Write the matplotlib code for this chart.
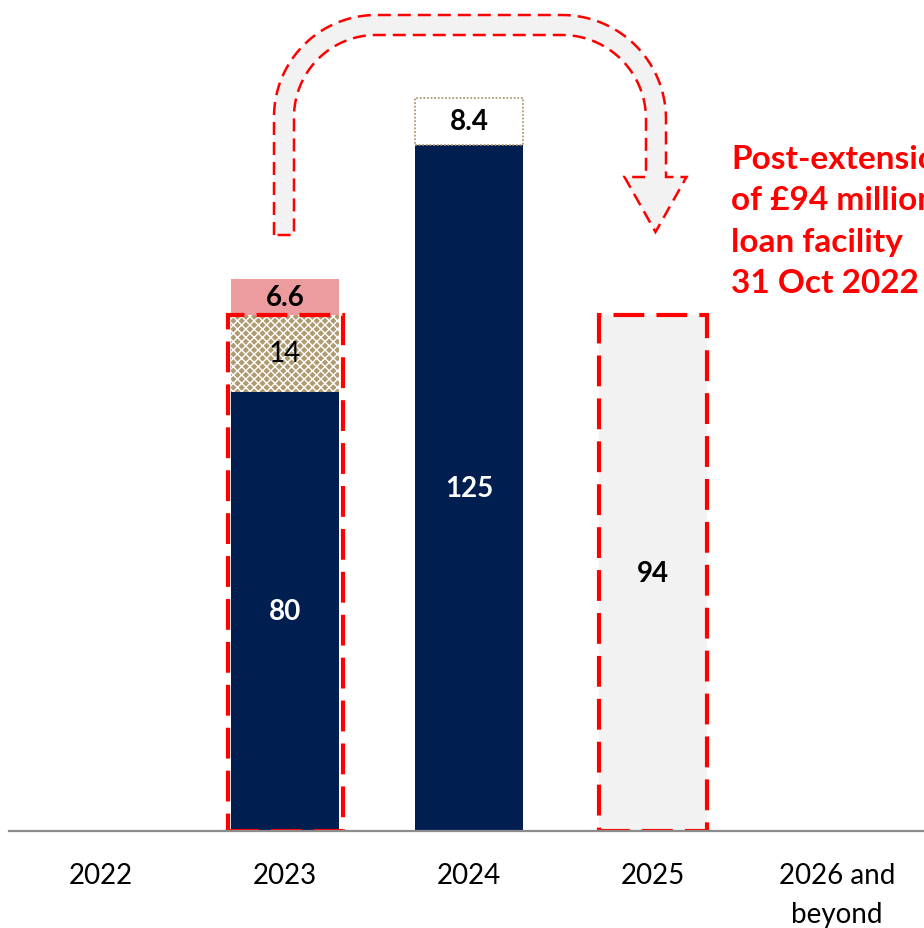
import numpy as np
import matplotlib
matplotlib.use("Agg")
import matplotlib.pyplot as plt
from matplotlib.patches import Rectangle, PathPatch
from matplotlib.path import Path
import matplotlib.transforms as mtransforms

plt.rcParams['font.family'] = ['Lato', 'DejaVu Sans']
plt.rcParams['hatch.linewidth'] = 1.0

# ---- data -------------------------------------------------------------
categories = ["2022", "2023", "2024", "2025", "2026 and\nbeyond"]
base_loans = [0, 80, 125, 0, 0]          # navy segment
hatched_loans = [0, 14, 0, 0, 0]         # patterned segment
pink_loans = [0, 6.6, 0, 0, 0]           # pink segment on top
outlined_loans = [0, 0, 8.4, 0, 0]       # white dotted segment
extended_loans = [0, 0, 0, 94, 0]        # grey dashed bar (post-extension)
note_lines = ["Post-extension", "of £94 million", "loan facility", "31 Oct 2022"]

NAVY = "#001E50"
PINK = "#EC9C9E"
TAN = "#B09A70"
RED = "#FF0000"
GREY = "#F2F2F2"

W, H = 924, 929
fig = plt.figure(figsize=(W / 100, H / 100), dpi=100)
ax = fig.add_axes([9 / W, (H - 832) / H, 920 / W, 832 / H])

x = np.arange(len(categories))
bw = 0.59

base = np.array(base_loans, float)
hat = np.array(hatched_loans, float)
pink = np.array(pink_loans, float)
outl = np.array(outlined_loans, float)
ext = np.array(extended_loans, float)


def nz(v):
    return v > 0


m = nz(base)
ax.bar(x[m], base[m], width=bw, color=NAVY, linewidth=0, zorder=2)
m = nz(hat)
ax.bar(x[m], hat[m], bottom=base[m], width=bw, color=TAN,
       edgecolor="white", linewidth=0, hatch="xxxx", zorder=2)
b2 = base + hat
m = nz(pink)
ax.bar(x[m], pink[m], bottom=b2[m], width=bw, color=PINK, linewidth=0, zorder=2)
m = nz(outl)
ax.bar(x[m], outl[m], bottom=base[m], width=bw, color="white",
       edgecolor=TAN, linewidth=1.3, linestyle=(0, (1, 1)), zorder=2)
m = nz(ext)
ax.bar(x[m], ext[m], width=bw, color=GREY, edgecolor=RED,
       linewidth=3, linestyle=(0, (7.4, 2.9)), zorder=2)

# dashed frame around the refinanced part of 2023
i23 = 1
frame_h = base[i23] + hat[i23]
ax.add_patch(Rectangle((x[i23] - 0.625 / 2, 0), 0.625, frame_h, fill=False,
                       edgecolor=RED, linewidth=3,
                       linestyle=(0, (7.4, 2.9)), zorder=3))

# ---- value labels -----------------------------------------------------
fs_val = 20
for i in x:
    if base[i]:
        ax.text(i, base[i] / 2, f"{base[i]:g}", ha="center",
                va="center", color="white", fontsize=fs_val, fontweight="bold", zorder=5)
    if hat[i]:
        ax.text(i, base[i] + hat[i] / 2, f"{hat[i]:g}",
                ha="center", va="center", color="black", fontsize=fs_val, zorder=5)
    if pink[i]:
        ax.text(i, b2[i] + pink[i] / 2, f"{pink[i]:g}", ha="center",
                va="center", color="black", fontsize=fs_val, fontweight="bold", zorder=5)
    if outl[i]:
        ax.text(i, base[i] + outl[i] / 2, f"{outl[i]:g}",
                ha="center", va="center", color="black", fontsize=fs_val,
                fontweight="bold", zorder=5)
    if ext[i]:
        ax.text(i, ext[i] / 2, f"{ext[i]:g}", ha="center",
                va="center", color="black", fontsize=fs_val, fontweight="bold", zorder=5)

# ---- axes styling -----------------------------------------------------
ax.set_xlim(-0.5, len(categories) - 0.5)
ax.set_ylim(0, 151.5)
for s in ["top", "right", "left"]:
    ax.spines[s].set_visible(False)
ax.spines["bottom"].set_color("#8C8C8C")
ax.spines["bottom"].set_linewidth(1.6)
ax.spines["bottom"].set_zorder(4)
ax.set_yticks([])
ax.set_xticks(x)
ax.set_xticklabels(categories, fontsize=20, linespacing=1.65)
ax.tick_params(axis="x", length=0, pad=22)
ax.patch.set_alpha(0)

# ---- curved arrow from 2023 to 2025 (figure pixel coordinates) --------
px = mtransforms.Affine2D().scale(1 / W, -1 / H).translate(0, 1) + fig.transFigure


def arc(cx, cy, r, a0, a1, n=40):
    t = np.radians(np.linspace(a0, a1, n))
    return np.column_stack([cx + r * np.cos(t), cy - r * np.sin(t)])


lx_out, lx_in, y_bot = 274, 294, 236
lc = (376, 118)
rc = (562, 120)
head_y, tip_y, shaft_c, head_half = 178, 233, 655.5, 31
pts = [np.array([[lx_out, y_bot], [lx_out, lc[1]]]),
       arc(lc[0], lc[1], lc[0] - lx_out, 180, 90),
       arc(rc[0], rc[1], 104, 90, 0),
       np.array([[rc[0] + 104, head_y], [shaft_c + head_half, head_y],
                 [shaft_c, tip_y], [shaft_c - head_half, head_y],
                 [rc[0] + 84, head_y]]),
       arc(rc[0], rc[1], 84, 0, 90),
       arc(lc[0], lc[1], lc[0] - lx_in, 90, 180),
       np.array([[lx_in, y_bot]])]
verts = np.vstack(pts)
verts = np.vstack([verts, verts[:1]])
codes = [Path.MOVETO] + [Path.LINETO] * (len(verts) - 2) + [Path.CLOSEPOLY]
arrow = PathPatch(Path(verts, codes), transform=px, facecolor=GREY,
                  edgecolor=RED, linewidth=1.8, linestyle=(0, (5.2, 2.8)),
                  zorder=1)
fig.add_artist(arrow)

# ---- annotation text (one line per baseline) --------------------------
for k, line in enumerate(note_lines):
    fig.text(731, 169 + 41.5 * k, line, transform=px, color=RED, fontsize=24,
             fontweight="bold", ha="left", va="baseline")

fig.savefig("out.png", dpi=100)
